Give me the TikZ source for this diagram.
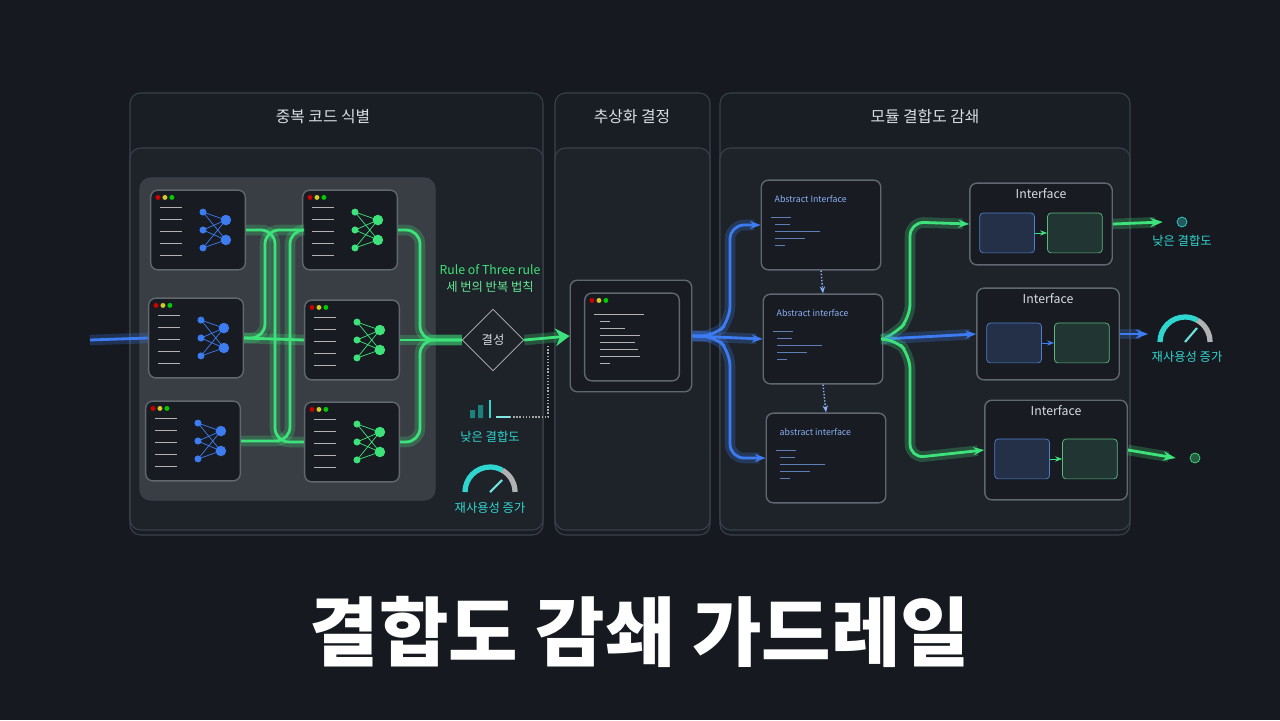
\documentclass[tikz,border=0pt]{standalone}
\usepackage{fontspec}
\setmainfont{Noto Sans CJK KR}
\usetikzlibrary{shapes.geometric,arrows.meta}
\definecolor{bg}{HTML}{161A20}
\definecolor{pan}{HTML}{1E232A}
\definecolor{edgec}{HTML}{3A414A}
\definecolor{grn}{HTML}{3EE27A}
\definecolor{blu}{HTML}{3D7CF0}
\definecolor{cyn}{HTML}{2FD6D0}
\definecolor{txt}{HTML}{D8DDE3}
\newcommand\pu{*0.5669pt}
\begin{document}
\begin{tikzpicture}[x=0.02cm,y=-0.02cm,
  panel/.style={draw=edgec,fill=pan,rounded corners=6pt,line width=0.6pt},
  card/.style={draw=edgec!80!white,fill=black!20!pan,rounded corners=4pt,line width=0.8pt},
  head/.style={text=txt,font=\small},
  lab/.style={text=cyn,font=\scriptsize},
  gline/.style={draw=grn,line width=1.6pt,rounded corners=8pt,preaction={draw=grn,opacity=.25,line width=6pt}},
  bline/.style={draw=blu,line width=1.6pt,rounded corners=8pt,preaction={draw=blu,opacity=.25,line width=6pt}},
  codeline/.style={draw=gray!60,line width=0.5pt}]
\fill[bg] (0,0) rectangle (1280,720);
% panels
\draw[panel,fill=bg!60!pan] (130,93) rectangle (543,535);
\draw[panel,fill=bg!60!pan] (555,93) rectangle (710,535);
\draw[panel,fill=bg!60!pan] (720,93) rectangle (1130,535);
\node[head] (h1) at (323,117) {중복 코드 식별};
\node[head] (h2) at (632,117) {추상화 결정};
\node[head] (h3) at (925,117) {모듈 결합도 감쇄};
\draw[panel] (130,148) rectangle (543,530);
\draw[panel] (555,148) rectangle (710,530);
\draw[panel] (720,148) rectangle (1130,530);
\draw[panel,fill=pan!88!white] (140,178) rectangle (435,500);
% left modules
\foreach \n/\x/\y/\c in {l1/198/230/blu,l2/196/338/blu,l3/193/441/blu,r1/350/230/grn,r2/352/340/grn,r3/352/442/grn}{
  \node[card,minimum width={95\pu},minimum height={80\pu}] (\n) at (\x,\y) {};
  \foreach \k/\cc in {0/red,1/yellow,2/green}
    \fill[\cc!80!black] ([xshift={(8+7*\k)\pu},yshift={-8\pu}]\n.north west) circle (1.4pt);
  \foreach \k in {0,...,4}
    \draw[codeline] ([xshift={10\pu},yshift={(-18-12*\k)\pu}]\n.north west) -- ++(22,0);
  \foreach \a in {-18,0,18}{\fill[\c] ([xshift={5\pu},yshift={\a\pu}]\n.center) circle (2pt);}
  \foreach \a in {-10,10}{\fill[\c] ([xshift={28\pu},yshift={\a\pu}]\n.center) circle (3pt);}
  \foreach \a in {-18,0,18}{\foreach \b in {-10,10}{\draw[\c,line width=0.4pt] ([xshift={5\pu},yshift={\a\pu}]\n.center) -- ([xshift={28\pu},yshift={\b\pu}]\n.center);}}
}
% input line
\coordinate (in) at (90,340);
\draw[bline] (in) -- (l2.west);
% green flows
\draw[gline] (l1.east) -- (275,230) -- (275,442) -- (r3.west);
\draw[gline] (l2.east) -- (r2.west);
\draw[gline] (l3.east) -- (290,441) -- (290,230) -- (r1.west);
\draw[gline] (l2.east) -- (265,338) -- (265,230) -- (r1.west);
\node[draw=gray!70,fill=pan,diamond,minimum width={62\pu},minimum height={62\pu},inner sep=0pt,text=txt,font=\scriptsize] (dia) at (493,340) {결성};
\draw[gline] (r1.east) -- (420,230) -- (420,340) -- (dia.west);
\draw[gline] (r2.east) -- (dia.west);
\draw[gline] (r3.east) -- (420,442) -- (420,340) -- (dia.west);
\node[draw=gray!70,fill=pan,diamond,minimum width={62\pu},minimum height={62\pu},inner sep=0pt,text=txt,font=\scriptsize] at (dia) {결성};
\node[lab,text=grn] (rule) at (490,270) {Rule of Three rule};
\node[lab,text=grn!80!white] (rulek) at (490,287) {세 번의 반복 법칙};
% code box
\node[card,minimum width={122\pu},minimum height={112\pu}] (code) at (631,336) {};
\node[card,minimum width={95\pu},minimum height={88\pu}] (codein) at (632,337) {};
\foreach \k/\cc in {0/red,1/yellow,2/green}
  \fill[\cc!80!black] ([xshift={(8+7*\k)\pu},yshift={-8\pu}]codein.north west) circle (1.4pt);
\foreach \k/\w in {0/50,1/10,2/25,3/40,4/35,5/38,6/40,7/10}
  \draw[codeline] ([xshift={(10+(\k>0)*6)\pu},yshift={(-22-7*\k)\pu}]codein.north west) -- ++(\w,0);
\draw[gline,-{Stealth[length=8pt,width=10pt]}] (dia.east) -- (code.west);
% left icons
\node[lab] (lowc) at (490,437) {낮은 결합도};
\coordinate (lowi) at (490,418);
\fill[cyn!60!black] (470,418) rectangle (475,410) (478,418) rectangle (483,405);
\draw[cyn,line width=1.2pt] (lowi) -- ++(0,-18);
\draw[cyn!60,line width=1pt] (496,417) -- (510,417);
\draw[gray!70,densely dotted,line width=0.8pt] (510,417) -- (548,417) -- (548,345);
\node[lab] (reuse1) at (490,508) {재사용성 증가};
\draw[cyn,line width=3pt] (465,492) arc (180:300:25);
\draw[gray!60,line width=3pt] (502.5,470.3) arc (300:360:25);
\draw[cyn!70,line width=1.2pt] (490,492) -- (502,480);
% abstract boxes
\foreach \n/\x/\y/\t in {a1/821/225/Abstract Interface,a2/823/339/Abstract interface,a3/826/458/abstract interface}{
  \node[card,minimum width={120\pu},minimum height={90\pu}] (\n) at (\x,\y) {};
  \node[text=blu!60!white,font=\tiny,anchor=west] at ([xshift={8\pu},yshift={-20\pu}]\n.north west) {\t};
  \foreach \k/\w in {0/20,1/15,2/45,3/30,4/10}
    \draw[codeline,draw=blu!50!gray] ([xshift={(10+(\k>0)*5)\pu},yshift={(-38-7*\k)\pu}]\n.north west) -- ++(\w,0);
}
\draw[blu!60,densely dotted,line width=0.8pt,-{Stealth[length=4pt]}] (a1.south) -- (a2.north);
\draw[blu!60,densely dotted,line width=0.8pt,-{Stealth[length=4pt]}] (a2.south) -- (a3.north);
\draw[bline,-{Stealth[length=6pt]}] (code.east) -- (715,336) -- (730,320) -- (730,225) -- (a1.west);
\draw[bline,-{Stealth[length=6pt]}] (code.east) -- (a2.west);
\draw[bline,-{Stealth[length=6pt]}] (code.east) -- (715,336) -- (730,352) -- (730,458) -- (a3.west);
% interfaces
\foreach \n/\x/\y/\c/\h in {i1/1041/224/grn/82,i2/1048/334/blu/92,i3/1056/450/grn/100}{
  \node[card,minimum width={143\pu},minimum height={\h\pu}] (\n) at (\x,\y) {};
  \node[head,font=\scriptsize,anchor=north] at (\n.north) {Interface};
  \node[draw=blu!70!gray,fill=blu!15!pan,rounded corners=2pt,minimum width={55\pu},minimum height={40\pu}] (\n a) at ([xshift={-34\pu},yshift={-9\pu}]\n.center) {};
  \node[draw=grn!60!gray,fill=grn!10!pan,rounded corners=2pt,minimum width={55\pu},minimum height={40\pu}] (\n b) at ([xshift={34\pu},yshift={-9\pu}]\n.center) {};
  \draw[\c,-{Stealth[length=4pt]}] (\n a) -- (\n b);
}
\draw[gline,-{Stealth[length=6pt]}] (a2.east) -- (895,334) -- (910,318) -- (910,222) -- (i1.west);
\draw[bline,-{Stealth[length=6pt]}] (a2.east) -- (i2.west);
\draw[gline,-{Stealth[length=6pt]}] (a2.east) -- (895,339) -- (910,355) -- (910,458) -- (i3.west);
% right outputs
\node[draw=cyn,circle,inner sep=2pt,fill=cyn!30!pan] (t1) at (1182,222) {};
\node[draw=grn,circle,inner sep=2pt,fill=grn!30!pan] (t2) at (1195,458) {};
\draw[gline,-{Stealth[length=7pt]}] (i1.east) -- ([xshift=-8pt]t1.west);
\coordinate (o2) at (1148,334);
\draw[bline,-{Stealth[length=7pt]}] (i2.east) -- (o2);
\draw[gline,-{Stealth[length=7pt]}] (i3.east) -- ([xshift=-8pt]t2.west);
\node[lab] (lowc2) at (1182,241) {낮은 결합도};
\draw[cyn,line width=3pt] (1160,342) arc (180:300:25);
\draw[gray!60,line width=3pt] (1197.5,320.3) arc (300:360:25);
\draw[cyn!70,line width=1.2pt] (1185,342) -- (1197,328);
\node[lab] (reuse2) at (1187,357) {재사용성 증가};
% title
\node[text=white,font=\fontsize{43}{48}\selectfont\bfseries] (title) at (640,632) {결합도 감쇄 가드레일};
\end{tikzpicture}
\end{document}
